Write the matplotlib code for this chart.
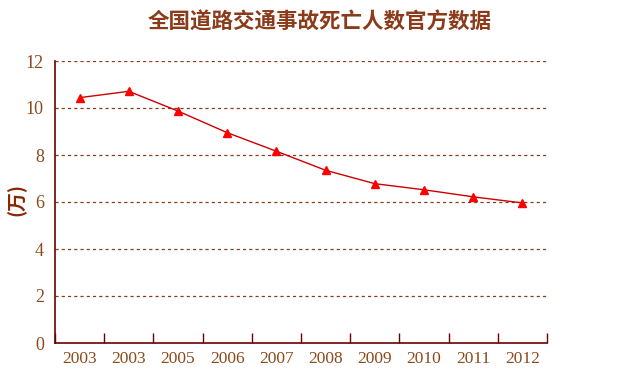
import matplotlib
matplotlib.use("Agg")
import matplotlib.pyplot as plt

years = ["2003", "2003", "2005", "2006", "2007", "2008", "2009", "2010", "2011", "2012"]
deaths = [10.44, 10.71, 9.87, 8.95, 8.16, 7.35, 6.78, 6.52, 6.22, 5.96]
yticks = [0, 2, 4, 6, 8, 10, 12]
title = "全国道路交通事故死亡人数官方数据"
ylabel = "(万)"

cjk = ["Noto Sans CJK SC", "DejaVu Sans"]
num_font = "Liberation Serif"

fig = plt.figure(figsize=(6.4, 3.7), dpi=100)
ax = fig.add_axes([55/640, 27/370, 492/640, 282/370])

x = list(range(len(years)))
ax.plot(x, deaths, color="#CC0000", lw=1.0, marker="^", markersize=6,
        markerfacecolor="#FF0000", markeredgecolor="#FF0000", zorder=3)

ax.set_xlim(-0.5, len(years) - 0.5)
ax.set_ylim(0, 12)
ax.set_yticks(yticks)
ax.set_yticklabels([str(v) for v in yticks], family=num_font, fontsize=13, color="#8B4A1C")
ax.tick_params(axis="y", length=0, pad=8)

ax.set_xticks([i - 0.5 for i in range(len(years) + 1)])
ax.set_xticklabels([])
ax.set_xticks(x, minor=True)
ax.set_xticklabels(years, minor=True, family=num_font, fontsize=12.5, color="#8B4A1C")
ax.tick_params(axis="x", which="major", direction="in", length=7, color="#6B0000", width=1)
ax.tick_params(axis="x", which="minor", length=0, pad=6)

for v in yticks[1:]:
    ax.axhline(v, color="#8B3A1A", lw=0.9, ls=(0, (2.5, 2.5)), zorder=1)

for s in ["top", "right"]:
    ax.spines[s].set_visible(False)
for s in ["left", "bottom"]:
    ax.spines[s].set_color("#6B0000")
    ax.spines[s].set_linewidth(1.2)

fig.text(320/640, 1 - 22/370, title, family=cjk, fontsize=15.5, fontweight="bold",
         color="#8B3A1A", ha="center", va="center")
fig.text(17/640, 1 - 200/370, ylabel, family=cjk, fontsize=13.5, fontweight="bold",
         color="#8B2500", ha="center", va="center", rotation=90)

fig.savefig("out.png", dpi=100, facecolor="white")
